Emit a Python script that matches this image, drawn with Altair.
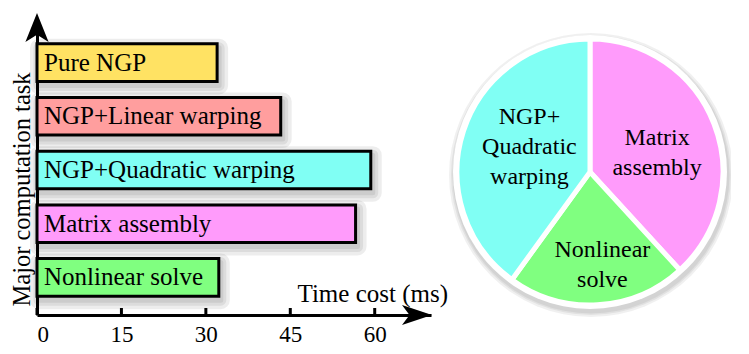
import altair as alt
import pandas as pd

# ---- data ----
tasks = ["Pure NGP", "NGP+Linear warping", "NGP+Quadratic warping",
         "Matrix assembly", "Nonlinear solve"]
times = [32.0, 43.3, 59.3, 56.6, 32.3]
colors = ["#FFE263", "#FF9E9E", "#80FFF4", "#FF9BFB", "#80FF80"]

pie_tasks = ["Matrix assembly", "Nonlinear solve", "NGP+Quadratic warping"]
pie_labels = ["Matrix\nassembly", "Nonlinear\nsolve", "NGP+\nQuadratic\nwarping"]

x_ticks = [0, 15, 30, 45, 60]

FONT = "Liberation Serif"

bars = pd.DataFrame({"task": tasks, "time": times})
pie = pd.DataFrame({
    "task": pie_tasks,
    "label": pie_labels,
    "value": [times[tasks.index(t)] for t in pie_tasks],
    "ord": list(range(len(pie_tasks))),
})
ticks = pd.DataFrame({"tick": x_ticks})

W, H = 394, 290
xscale = alt.Scale(domain=[0, 70], nice=False, zero=True)
yscale = alt.Scale(domain=tasks, paddingInner=0.3, paddingOuter=0.35)
cscale = alt.Scale(domain=tasks, range=colors)

X = alt.X("time:Q", scale=xscale,
          axis=alt.Axis(values=x_ticks, ticks=False, grid=False, domainColor="black",
                        domainWidth=3, labelFont=FONT, labelFontSize=23, labelColor="black",
                        labelPadding=8, title="Time cost (ms)", titleFont=FONT,
                        titleFontSize=25, titleFontWeight="normal", titleColor="black",
                        titleX=260, titleY=-14, titleAlign="left",
                        titleBaseline="alphabetic"))
Y = alt.Y("task:N", scale=yscale, sort=tasks,
          axis=alt.Axis(labels=False, ticks=False, grid=False, domainColor="black",
                        domainWidth=3, title="Major computation task", titleFont=FONT,
                        titleFontSize=24.5, titleFontWeight="normal", titleColor="black",
                        titleAngle=270, titleX=-15, titleY=164, titleAlign="center",
                        titleBaseline="middle"))

base = alt.Chart(bars)

shadows = [
    base.mark_bar(fillOpacity=0, stroke="black", strokeOpacity=0.07, strokeWidth=sw,
                  strokeJoin="round", xOffset=2, x2Offset=2, yOffset=4, y2Offset=4)
    .encode(x=X, y=Y)
    for sw in (18, 11, 5)
]

bar_layer = base.mark_bar(stroke="black", strokeWidth=3).encode(
    x=X, y=Y, color=alt.Color("task:N", scale=cscale, legend=None))

bar_text = base.mark_text(align="left", baseline="middle", dx=7, font=FONT,
                          fontSize=25, color="black").encode(
    x=alt.datum(0, scale=xscale), y=Y, text="task:N")

tick_rules = alt.Chart(ticks).mark_rule(color="black", strokeWidth=3).encode(
    x=alt.X("tick:Q", scale=xscale), y=alt.value(H), y2=alt.value(H - 7))

arrow_x = alt.Chart(ticks.head(1)).mark_point(
    shape="M 1 0 L -1 -0.67 L -0.5 0 L -1 0.67 Z", filled=True, color="black",
    opacity=1, size=900).encode(x=alt.value(380), y=alt.value(H))
arrow_y = alt.Chart(ticks.head(1)).mark_point(
    shape="M 0 -1 L 0.8 1 L 0 0.5 L -0.8 1 Z", filled=True, color="black",
    opacity=1, size=841).encode(x=alt.value(0), y=alt.value(2.5))

# ---- pie ----
CX, CY = 553, 147
one = pd.DataFrame({"k": [0]})
halo = [
    alt.Chart(one).mark_circle(color="black", opacity=0.06, size=(2 * r) ** 2).encode(
        x=alt.value(CX + 1), y=alt.value(CY + 3))
    for r in (142, 140, 138.5)
]
white_disk = alt.Chart(one).mark_circle(color="white", opacity=1, size=(2 * 137) ** 2).encode(
    x=alt.value(CX), y=alt.value(CY))

pbase = alt.Chart(pie)
theta = alt.Theta("value:Q", stack=True)
order = alt.Order("ord:Q")
slices = pbase.mark_arc(outerRadius=133, stroke="white", strokeWidth=5).encode(
    theta=theta, order=order,
    color=alt.Color("task:N", scale=cscale, legend=None),
    x=alt.value(CX), y=alt.value(CY))


def pie_label(idx, radius, dx, dy):
    return pbase.mark_text(radius=radius, dx=dx, dy=dy, font=FONT, fontSize=24,
                           color="black", lineBreak="\n", lineHeight=30,
                           align="center", baseline="middle").encode(
        theta=theta, order=order, text="label:N", x=alt.value(CX), y=alt.value(CY),
        opacity=alt.condition(alt.datum.ord == idx, alt.value(1), alt.value(0)))


labels = [pie_label(0, 72, 0, -8), pie_label(1, 94, 7, -16), pie_label(2, 70, 6, -33)]

chart = alt.layer(
    *shadows, bar_layer, bar_text, tick_rules, arrow_x, arrow_y,
    *halo, white_disk, slices, *labels
).properties(
    width=W, height=H,
    padding={"left": 29, "top": 17, "right": 300, "bottom": 30},
    autosize=alt.AutoSizeParams(type="none"),
    background="white",
).configure_view(stroke=None)

chart.save("out.html", embed_options={"renderer": "svg", "actions": False})
